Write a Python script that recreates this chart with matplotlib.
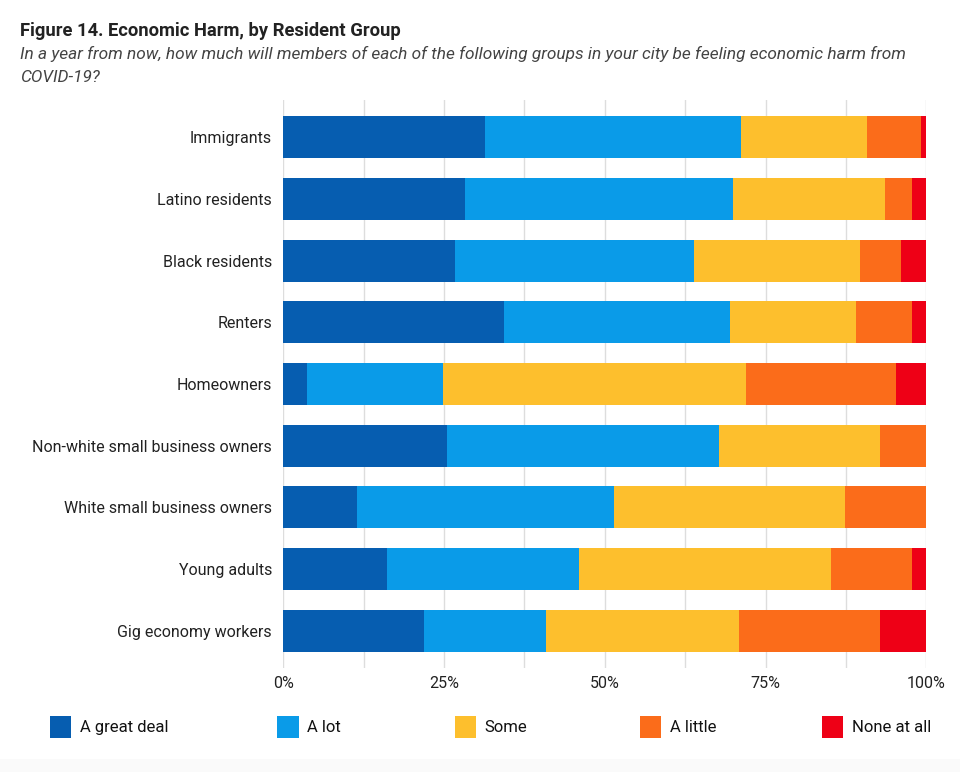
import matplotlib.pyplot as plt
import numpy as np
from matplotlib.patches import Rectangle

plt.rcParams['font.family'] = ['Roboto', 'DejaVu Sans']

# data (percent of respondents)
groups = ['Immigrants', 'Latino residents', 'Black residents', 'Renters', 'Homeowners',
          'Non-white small business owners', 'White small business owners',
          'Young adults', 'Gig economy workers']
great_deal = [31.3, 28.3, 26.7, 34.4, 3.7, 25.5, 11.5, 16.2, 21.9]
a_lot = [39.8, 41.7, 37.1, 35.0, 21.2, 42.3, 40.0, 29.8, 19.0]
some = [19.6, 23.6, 25.9, 19.7, 47.0, 25.0, 35.9, 39.1, 29.9]
a_little = [8.5, 4.1, 6.3, 8.6, 23.4, 7.2, 12.6, 12.6, 22.0]
none_at_all = [0.8, 2.3, 4.0, 2.3, 4.7, 0.0, 0.0, 2.3, 7.2]

labels = ['A great deal', 'A lot', 'Some', 'A little', 'None at all']
colors = ['#065db0', '#0a9be8', '#fdbf2d', '#fb6c1a', '#ee0016']
series = [great_deal, a_lot, some, a_little, none_at_all]

fig = plt.figure(figsize=(9.6, 7.72), dpi=100)
# faint grey strip at the very bottom
fig.add_artist(Rectangle((0, 0), 1, 0.017, transform=fig.transFigure,
                         facecolor='#fafafa', edgecolor='none'))
ax = fig.add_axes([0.295, 0.135, 0.67, 0.735])

y = np.arange(len(groups))
left = np.zeros(len(groups))
for vals, c, lab in zip(series, colors, labels):
    vals = np.array(vals)
    ax.barh(y, vals, left=left, height=0.68, color=c, label=lab, zorder=2)
    left += vals

ax.set_xlim(0, 100)
ax.set_ylim(len(groups) - 0.4, -0.6)
ax.set_yticks(y)
ax.set_yticklabels(groups, fontsize=11.5, color='#222222')
ax.set_xticks([0, 25, 50, 75, 100])
ax.set_xticklabels(['0%', '25%', '50%', '75%', '100%'], fontsize=11.5, color='#222222')
ax.set_xticks(np.arange(0, 101, 12.5), minor=True)
ax.grid(True, axis='x', which='both', color='#dddddd', linewidth=1, zorder=0)
ax.tick_params(axis='both', which='both', length=0, pad=8)
ax.tick_params(axis='x', pad=6)
for s in ax.spines.values():
    s.set_visible(False)

# titles
fig.text(0.021, 0.972, 'Figure 14. Economic Harm, by Resident Group', fontsize=13.2,
         fontweight='bold', color='#222222', va='top')
fig.text(0.021, 0.941, 'In a year from now, how much will members of each of the following groups in your city be feeling economic harm from\nCOVID-19?',
         fontsize=12.4, style='italic', color='#444444', va='top', linespacing=1.7)

# legend
leg_x = [0.052, 0.289, 0.474, 0.667, 0.856]
for lx, c, lab in zip(leg_x, colors, labels):
    fig.add_artist(Rectangle((lx, 0.044), 0.022, 0.028, transform=fig.transFigure,
                             facecolor=c, edgecolor='none'))
    fig.text(lx + 0.031, 0.058, lab, fontsize=12, color='#111111', va='center')

fig.savefig('out.png', dpi=100)
